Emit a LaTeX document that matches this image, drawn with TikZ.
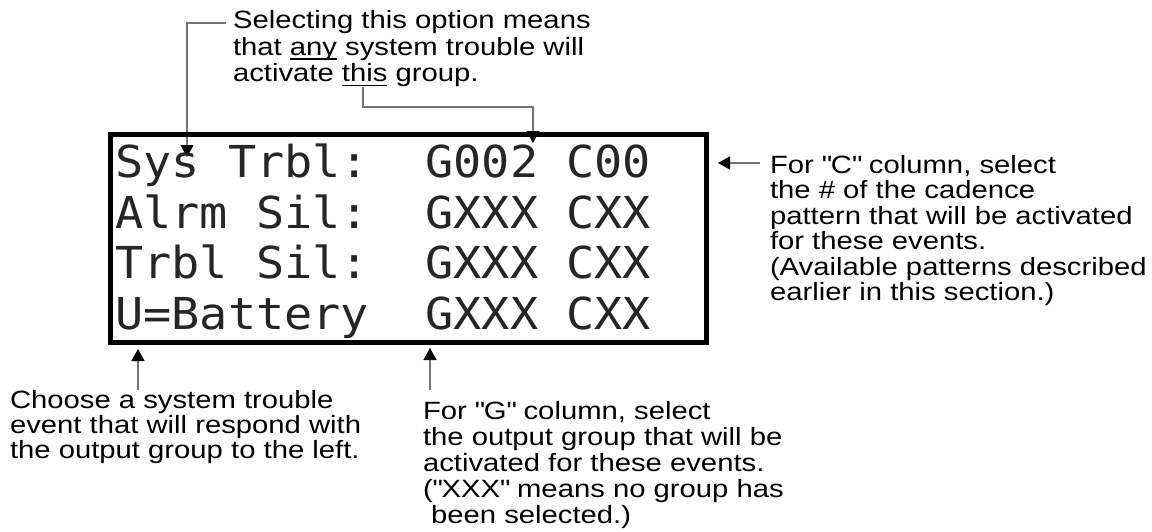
\documentclass[tikz,border=0pt]{standalone}
\usepackage{fontspec}
\setmainfont{Liberation Sans}[FakeStretch=1.17]
\newfontfamily\lcdfont{DejaVu Sans Mono}[FakeStretch=1.065]
\usetikzlibrary{arrows.meta}
\newcommand\myul[1]{\setbox0=\hbox{#1}\makebox[0pt][l]{\rule[-4.5pt]{\wd0}{1.2pt}}\box0\relax}
\newcommand\nl[1]{\hbox{#1}}
\newcommand\dq{\textquotedbl}
\newcommand\notelines[2]{\vtop{\fontsize{25}{#1}\selectfont\lineskiplimit=-20pt\relax #2}}
\tikzset{
  note/.style={anchor=base west, inner sep=0pt, outer sep=0pt, text=black},
  lcdrow/.style={anchor=base west, inner sep=0pt, font=\lcdfont\fontsize{44}{44}\selectfont, text=black!85},
  lead/.style={draw=black!55, line width=1.2pt},
  leadarrow/.style={lead, -{Triangle[width=13pt,length=12pt,black]}},
  lcdbox/.style={draw=black, line width=5pt, minimum width=596pt, minimum height=208pt, inner sep=0pt}
}
\begin{document}
\begin{tikzpicture}[x=1pt,y=-1pt]
\useasboundingbox (0,0) rectangle (1152,531);

% notes
\node[note] (toptext) at (233,28.3) {\notelines{26.7pt}{\nl{Selecting this option means}\nl{that \myul{any} system trouble will}\nl{activate \myul{this} group.}}};
\node[note] (righttext) at (770,173.3) {\notelines{25.5pt}{\nl{For \dq C\dq\ column, select}\nl{the \# of the cadence}\nl{pattern that will be activated}\nl{for these events.}\nl{(Available patterns described}\nl{earlier in this section.)}}};
\node[note] (leftnote) at (10,408) {\notelines{25pt}{\nl{Choose a system trouble}\nl{event that will respond with}\nl{the output group to the left.}}};
\node[note] (midnote) at (423,419) {\notelines{26pt}{\nl{For \dq G\dq\ column, select}\nl{the output group that will be}\nl{activated for these events.}\nl{(\dq XXX\dq\ means no group has}\nl{\ been selected.)}}};

% connector end points
\coordinate (topstart) at (226,23);
\coordinate (topbend) at (187,23);
\coordinate (systip) at (187,157);
\coordinate (thisfoot) at (363,87);
\coordinate (thisbend1) at (363,107);
\coordinate (thisbend2) at (533,107);
\coordinate (gtip) at (533,143);
\coordinate (cstart) at (760,163);
\coordinate (ctip) at (718,163);
\coordinate (lstart) at (138,390);
\coordinate (ltip) at (138,349);
\coordinate (mstart) at (430,390);
\coordinate (mtip) at (430,348);

% connectors
\draw[leadarrow] (topstart) -- (topbend) -- (systip);
\draw[leadarrow] (thisfoot) -- (thisbend1) -- (thisbend2) -- (gtip);
\draw[leadarrow] (cstart) -- (ctip);
\draw[leadarrow] (lstart) -- (ltip);
\draw[leadarrow] (mstart) -- (mtip);

% LCD
\node[lcdbox] (lcd) at (408,238) {};
\node[lcdrow] (row1) at (115,177) {Sys Trbl:~~G002 C00};
\node[lcdrow] (row2) at (115,228) {Alrm Sil:~~GXXX CXX};
\node[lcdrow] (row3) at (115,278) {Trbl Sil:~~GXXX CXX};
\node[lcdrow] (row4) at (115,329) {U=Battery~~GXXX CXX};
\end{tikzpicture}
\end{document}
